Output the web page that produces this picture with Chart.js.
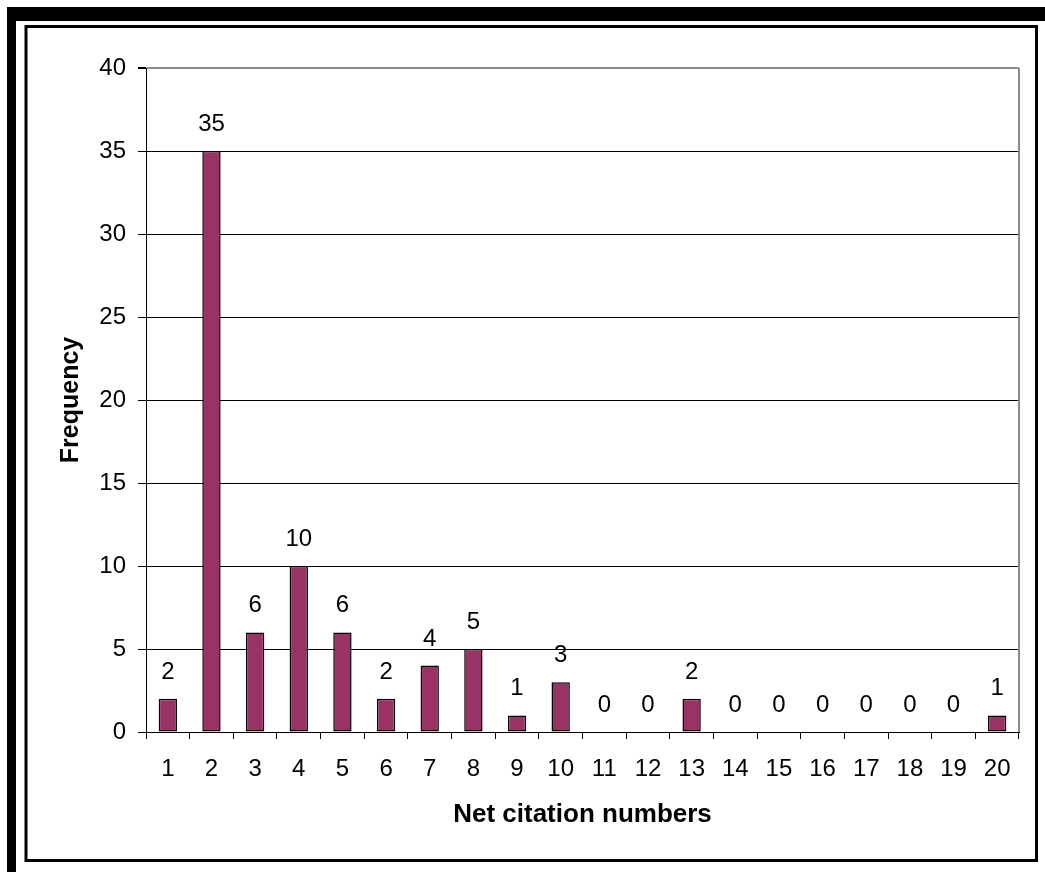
<!DOCTYPE html>
<html>
<head>
<meta charset="utf-8">
<script src="https://cdn.jsdelivr.net/npm/chart.js@4/dist/chart.umd.min.js"></script>
<style>
  html, body { margin: 0; padding: 0; background: #fff; }
  #wrap { position: relative; width: 1045px; height: 872px; }
</style>
</head>
<body>
<div id="wrap"><canvas id="c" width="1045" height="872"></canvas></div>
<script>
const categories = ['1','2','3','4','5','6','7','8','9','10','11','12','13','14','15','16','17','18','19','20'];
const frequency = [2, 35, 6, 10, 6, 2, 4, 5, 1, 3, 0, 0, 2, 0, 0, 0, 0, 0, 0, 1];
const yTicks = [0, 5, 10, 15, 20, 25, 30, 35, 40];
const xTitle = 'Net citation numbers';
const yTitle = 'Frequency';

const FONT = 'Arial, "Liberation Sans", Helvetica, sans-serif';

const framePlugin = {
  id: 'frame',
  beforeDraw(chart) {
    const ctx = chart.ctx;
    ctx.save();
    ctx.fillStyle = '#fff';
    ctx.fillRect(0, 0, chart.width, chart.height);
    ctx.fillStyle = '#000';
    ctx.fillRect(7, 7, chart.width - 7, 14);
    ctx.fillRect(7, 7, 9, chart.height - 7);
    ctx.lineWidth = 3;
    ctx.strokeStyle = '#000';
    ctx.strokeRect(26, 26.5, 1010.5, 834);
    ctx.restore();
  },
  afterDraw(chart) {
    const a = chart.chartArea;
    const ctx = chart.ctx;
    ctx.save();
    ctx.strokeStyle = '#8c8c8c';
    ctx.lineWidth = 2;
    ctx.beginPath();
    ctx.moveTo(a.right, a.top);
    ctx.lineTo(a.right, a.bottom);
    ctx.stroke();
    ctx.restore();
  }
};

const labelPlugin = {
  id: 'barLabels',
  afterDatasetsDraw(chart) {
    const ctx = chart.ctx;
    const meta = chart.getDatasetMeta(0);
    ctx.save();
    ctx.fillStyle = '#000';
    ctx.font = '24px ' + FONT;
    ctx.textAlign = 'center';
    ctx.textBaseline = 'alphabetic';
    meta.data.forEach((bar, i) => {
      ctx.fillText(String(frequency[i]), bar.x, bar.y - 20);
    });
    ctx.restore();
  }
};

new Chart(document.getElementById('c'), {
  type: 'bar',
  data: {
    labels: categories,
    datasets: [{
      data: frequency,
      backgroundColor: '#993366',
      borderColor: '#000',
      borderWidth: 1.5,
      borderSkipped: false,
      barPercentage: 0.42,
      categoryPercentage: 1.0
    }]
  },
  options: {
    responsive: false,
    animation: false,
    devicePixelRatio: 1,
    layout: { padding: { left: 56, right: 26, top: 68, bottom: 42 } },
    plugins: { legend: { display: false }, tooltip: { enabled: false } },
    scales: {
      x: {
        grid: { offset: true, drawOnChartArea: false, tickLength: 7, color: '#000', tickColor: '#000', lineWidth: 1 },
        border: { color: '#000', width: 1 },
        ticks: { color: '#000', font: { family: FONT, size: 24 }, padding: 16, maxRotation: 0, autoSkip: false },
        title: { display: true, text: xTitle, color: '#000', font: { family: FONT, size: 26, weight: 'bold', lineHeight: 1.2 }, padding: 0 },
        afterFit(scale) { scale.height = 98; }
      },
      y: {
        min: 0, max: 40,
        afterBuildTicks(scale) { scale.ticks = yTicks.map(v => ({ value: v })); },
        grid: {
          tickLength: 8,
          color: (c) => (c.tick && c.tick.value === 40) ? '#8c8c8c' : '#000',
          lineWidth: (c) => (c.tick && c.tick.value === 40) ? 2 : 1,
          tickColor: '#000'
        },
        border: { color: '#000', width: 1 },
        ticks: { color: '#000', font: { family: FONT, size: 24 }, padding: 12 },
        title: { display: true, text: yTitle, color: '#000', font: { family: FONT, size: 25, weight: 'bold', lineHeight: 1.2 }, padding: 0 },
        afterFit(scale) { scale.width = 90; }
      }
    }
  },
  plugins: [framePlugin, labelPlugin]
});
</script>
</body>
</html>
